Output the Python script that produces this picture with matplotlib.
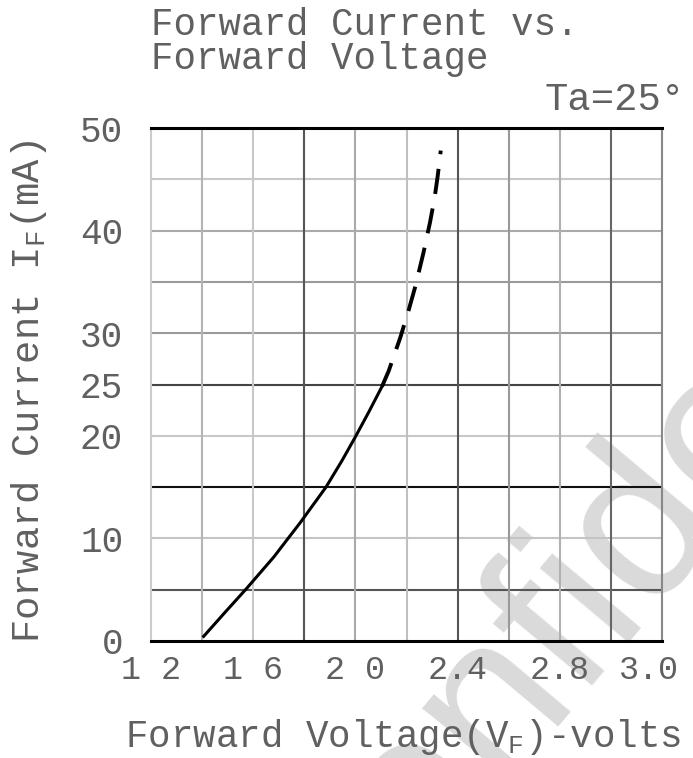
import matplotlib
matplotlib.use("Agg")
import matplotlib.pyplot as plt

# forward current (mA) vs forward voltage (V)
voltage_solid = [1.406, 1.490, 1.577, 1.681, 1.786, 1.885, 1.948, 2.000, 2.052, 2.104]
current_solid = [0.45, 2.8, 5.2, 8.2, 11.6, 15.0, 17.6, 19.9, 22.3, 24.8]
voltage_dashed = [2.104, 2.130, 2.176, 2.208, 2.235, 2.266, 2.292, 2.310, 2.322, 2.334]
current_dashed = [24.8, 26.3, 29.6, 32.2, 34.6, 37.8, 40.8, 43.2, 45.3, 47.8]

y_ticks = [0, 10, 20, 25, 30, 40, 50]
x_tick_labels = ["1 2", "1 6", "2 0", "2.4", "2.8", "3.0"]
x_tick_pos = [1.2, 1.6, 2.0, 2.4, 2.8, 3.15]

h_grid = [5, 10, 15, 20, 25, 30, 35, 40, 45]
v_grid = [1.4, 1.6, 1.8, 2.0, 2.2, 2.4, 2.6, 2.8, 3.0]

FONT = "Liberation Mono"
TXT = "#606060"
plt.rcParams["mathtext.fontset"] = "custom"
plt.rcParams["mathtext.rm"] = FONT
plt.rcParams["mathtext.it"] = FONT

fig = plt.figure(figsize=(6.93, 7.58), dpi=100)
ax = fig.add_axes([151 / 693, 1 - 641 / 758, 511 / 693, 513 / 758])
ax.patch.set_alpha(0)

# watermark, sits under the grid
fig.text(318 / 693, 1 - 1000 / 758, "Confidential", fontsize=158, color="#dadada",
         rotation=50, rotation_mode="anchor", ha="left", va="baseline",
         family="Liberation Sans", zorder=-5)

h_colors = ["#555555", "#c4c4c4", "#111111", "#c8c8c8", "#444444", "#9a9a9a", "#9a9a9a", "#aaaaaa", "#c8c8c8"]
v_colors = ["#b4b4b4", "#c8c8c8", "#555555", "#aaaaaa", "#c0c0c0", "#555555", "#999999", "#b0b0b0", "#666666"]
for y, c in zip(h_grid, h_colors):
    ax.axhline(y, color=c, lw=1.5, zorder=1)
for x, c in zip(v_grid, v_colors):
    ax.axvline(x, color=c, lw=1.5, zorder=1)

ax.plot(voltage_solid, current_solid, color="black", lw=2.2, zorder=3)
ax.plot(voltage_dashed, current_dashed, color="black", lw=2.8, zorder=3,
        dashes=(6.5, 3.8))

ax.set_xlim(1.2, 3.2)
ax.set_ylim(0, 50)
ax.spines["top"].set_color("black")
ax.spines["top"].set_linewidth(2.2)
ax.spines["bottom"].set_color("black")
ax.spines["bottom"].set_linewidth(2.2)
ax.spines["left"].set_color("#cccccc")
ax.spines["left"].set_linewidth(1.5)
ax.spines["right"].set_color("#888888")
ax.spines["right"].set_linewidth(1.5)

ax.set_yticks(y_ticks)
ax.set_yticklabels([str(v) for v in y_ticks], family=FONT, fontsize=26, color=TXT)
ax.set_xticks(x_tick_pos)
ax.set_xticklabels(x_tick_labels, family=FONT, fontsize=24, color=TXT)
ax.tick_params(length=0)
ax.tick_params(axis="y", pad=20)
ax.tick_params(axis="x", pad=10)

fig.text(151 / 693, 1 - 7 / 758, "Forward Current vs.\nForward Voltage", family=FONT,
         fontsize=27, color=TXT, ha="left", va="top", linespacing=0.92)
fig.text(545 / 693, 1 - 110 / 758, "Ta=25°", family=FONT, fontsize=28,
         color=TXT, ha="left", va="baseline")

fig.text(29 / 693, 1 - 391 / 758, r"Forward Current I$_\mathrm{F}$(mA)", family=FONT,
         fontsize=28, color=TXT, rotation=90, ha="center", va="center")
fig.text(403 / 693, 1 - 747 / 758, r"Forward Voltage(V$_\mathrm{F}$)-volts", family=FONT,
         fontsize=27, color=TXT, ha="center", va="baseline")

fig.savefig("out.png", dpi=100)
